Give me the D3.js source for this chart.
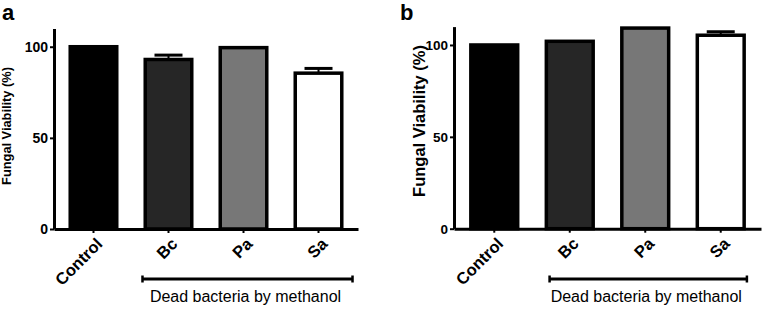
<!DOCTYPE html>
<html>
<head>
<meta charset="utf-8">
<script src="https://d3js.org/d3.v7.min.js"></script>
<style>
  body { margin: 0; background: #fff; }
  svg { display: block; font-family: "Liberation Sans", Arial, sans-serif; }
</style>
</head>
<body>
<div id="chart"></div>
<script>
// Chart data
const groups = ["Control", "Bc", "Pa", "Sa"];
const fills = ["#000000", "#262626", "#777777", "#ffffff"];
const viabilityA = [100, 93, 99.5, 85.5];
const errorA = [0, 2.4, 0, 2.6];
const viabilityB = [100, 102, 109.2, 105.3];
const errorB = [0, 0, 0, 1.9];
const yTicks = [0, 50, 100];
const yLabel = "Fungal Viability (%)";
const bracketLabel = "Dead bacteria by methanol";
const bracketGroups = ["Bc", "Sa"];

const svg = d3.select("#chart")
    .append("svg")
    .attr("width", 762)
    .attr("height", 309);

// Draws one panel (a or b)
function drawPanel(p) {
    const g = svg.append("g");

    const x = d3.scaleBand()
        .domain(groups)
        .range([p.x0, p.x1])
        .paddingInner(0.333)
        .paddingOuter(p.outer);

    const y = d3.scaleLinear()
        .domain([0, 110])
        .range([p.y0, p.yTop]);

    const rows = groups.map((k, i) => ({ key: k, v: p.values[i], e: p.errors[i], fill: fills[i] }));

    // bars
    g.selectAll("rect.bar")
        .data(rows)
        .enter()
        .append("rect")
        .attr("class", "bar")
        .attr("x", d => x(d.key) + 1.75)
        .attr("width", x.bandwidth() - 3.5)
        .attr("y", d => y(d.v))
        .attr("height", d => y(0) - y(d.v))
        .attr("fill", d => d.fill)
        .attr("stroke", "#000")
        .attr("stroke-width", 3.5);

    // upper error bars
    const err = rows.filter(d => d.e > 0);
    g.selectAll("line.err")
        .data(err)
        .enter()
        .append("line")
        .attr("x1", d => x(d.key) + x.bandwidth() / 2)
        .attr("x2", d => x(d.key) + x.bandwidth() / 2)
        .attr("y1", d => y(d.v))
        .attr("y2", d => y(d.v + d.e))
        .attr("stroke", "#000")
        .attr("stroke-width", 2);
    g.selectAll("line.cap")
        .data(err)
        .enter()
        .append("line")
        .attr("x1", d => x(d.key) + x.bandwidth() / 2 - 14)
        .attr("x2", d => x(d.key) + x.bandwidth() / 2 + 14)
        .attr("y1", d => y(d.v + d.e))
        .attr("y2", d => y(d.v + d.e))
        .attr("stroke", "#000")
        .attr("stroke-width", 3);

    // y axis
    const yAxis = g.append("g")
        .attr("transform", `translate(${p.x0},0)`)
        .call(d3.axisLeft(y).tickValues(yTicks).tickSize(4).tickSizeOuter(0).tickPadding(2));
    yAxis.select(".domain").attr("stroke-width", 3);
    yAxis.selectAll(".tick line").attr("stroke-width", 2);
    yAxis.selectAll("text")
        .attr("font-size", p.tickSize)
        .attr("font-weight", "bold")
        .attr("fill", "#000")
        .attr("font-family", "Liberation Sans, Arial, sans-serif");

    // x axis
    const xAxis = g.append("g")
        .attr("transform", `translate(0,${p.y0})`)
        .call(d3.axisBottom(x).tickSize(4).tickSizeOuter(0).tickFormat(""));
    xAxis.select(".domain").attr("stroke-width", 3);
    xAxis.selectAll(".tick line").attr("stroke-width", 2);

    g.selectAll("text.xlab")
        .data(groups)
        .enter()
        .append("text")
        .attr("class", "xlab")
        .attr("transform", d => `translate(${x(d) + x.bandwidth() / 2 + 10},${p.y0 + 16}) rotate(-45)`)
        .attr("text-anchor", "end")
        .attr("font-size", 16.5)
        .attr("font-weight", "bold")
        .text(d => d);

    // y label
    g.append("text")
        .attr("transform", `translate(${p.labelX},${p.labelY}) rotate(-90)`)
        .attr("text-anchor", "middle")
        .attr("font-size", p.labelSize)
        .attr("font-weight", "bold")
        .text(yLabel);

    // panel letter
    g.append("text")
        .attr("x", p.letterX)
        .attr("y", 20)
        .attr("font-size", 22)
        .attr("font-weight", "bold")
        .text(p.letter);

    // bracket under the bacteria groups
    const bx1 = x(bracketGroups[0]) + p.brL;
    const bx2 = x(bracketGroups[1]) + x.bandwidth() + p.brR;
    g.append("line")
        .attr("x1", bx1).attr("x2", bx2)
        .attr("y1", p.brY).attr("y2", p.brY)
        .attr("stroke", "#000").attr("stroke-width", 3);
    [bx1, bx2].forEach(bx => {
        g.append("line")
            .attr("x1", bx).attr("x2", bx)
            .attr("y1", p.brY - 3.5).attr("y2", p.brY + 3.5)
            .attr("stroke", "#000").attr("stroke-width", 2.5);
    });
    g.append("text")
        .attr("x", (bx1 + bx2) / 2 - 2)
        .attr("y", p.brY + 23)
        .attr("text-anchor", "middle")
        .attr("font-size", 16)
        .text(bracketLabel);
}

drawPanel({
    letter: "a", letterX: 2,
    values: viabilityA, errors: errorA,
    x0: 54, x1: 358, outer: 0.193,
    y0: 229, yTop: 28.5,
    tickSize: 14, labelSize: 12.8, labelX: 11, labelY: 126,
    brL: -1, brR: 9, brY: 279
});

drawPanel({
    letter: "b", letterX: 400,
    values: viabilityB, errors: errorB,
    x0: 454, x1: 761, outer: 0.2,
    y0: 228.7, yTop: 26.6,
    tickSize: 13.5, labelSize: 16.5, labelX: 425, labelY: 121,
    brL: 5, brR: 1, brY: 279
});
</script>
</body>
</html>
